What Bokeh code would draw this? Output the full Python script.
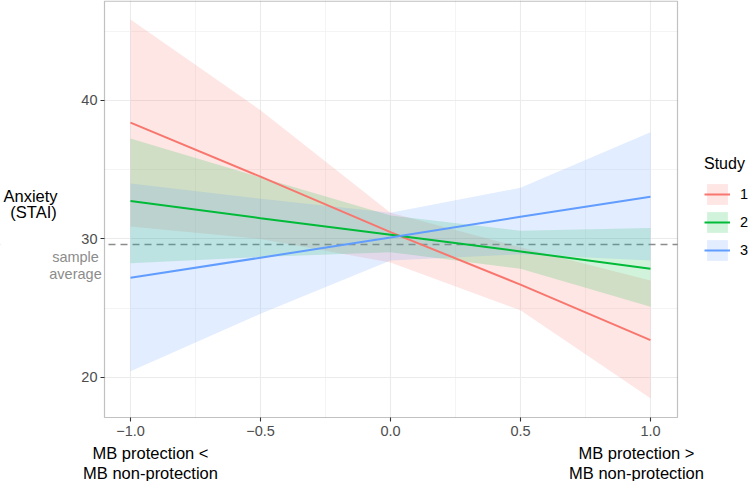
from bokeh.plotting import figure
from bokeh.models import Range1d, FixedTicker, Span, Legend, LegendItem, Label, BoxAnnotation
from bokeh.embed import file_html
from bokeh.resources import INLINE

# ---- data ----
x_points = [-1.0, -0.5, 0.0, 0.5, 1.0]
studies = ["1", "2", "3"]
colors = ["#F8766D", "#00BA38", "#619CFF"]

s1_mean = [38.4, 34.5, 30.5, 26.7, 22.7]
s1_lower = [30.9, 30.0, 28.3, 24.85, 18.5]
s1_upper = [45.85, 39.3, 31.9, 29.4, 27.0]

s2_mean = [32.75, 31.5, 30.3, 29.1, 27.85]
s2_lower = [28.25, 28.7, 29.05, 27.85, 25.1]
s2_upper = [37.25, 34.45, 31.7, 30.6, 30.8]

s3_mean = [27.2, 28.65, 30.1, 31.6, 33.05]
s3_lower = [20.45, 24.6, 28.45, 28.9, 28.45]
s3_upper = [34.0, 32.9, 31.9, 33.7, 37.7]

sample_average = 29.6

x_tick_values = [-1.0, -0.5, 0.0, 0.5, 1.0]
x_tick_labels = ["\u22121.0", "\u22120.5", "0.0", "0.5", "1.0"]
x_minor_values = [-0.75, -0.25, 0.25, 0.75]
y_tick_values = [20, 30, 40]
y_minor_values = [15, 25, 35, 45]

FONT = "Liberation Sans"
W, H = 750, 481

# panel limits (data) and where the panel sits on the canvas (px)
X_LO, X_HI = -1.1, 1.104
Y_LO, Y_HI = 17.11, 47.22
PX_L, PX_R, PX_B = 104, 677, 417
ux = (X_HI - X_LO) / (PX_R - PX_L)
uy = (Y_HI - Y_LO) / PX_B
XR0, XR1 = X_LO - PX_L * ux, X_HI + (W - PX_R) * ux
YR0, YR1 = Y_LO - (H - PX_B) * uy, Y_HI

p = figure(width=W, height=H, output_backend="svg", toolbar_location=None,
           x_range=Range1d(XR0, XR1), y_range=Range1d(YR0, YR1),
           min_border=0, min_border_left=0, min_border_right=0,
           min_border_top=0, min_border_bottom=0)
p.background_fill_color = "white"
p.border_fill_color = "white"
p.outline_line_color = None

xa = p.xaxis[0]
ya = p.yaxis[0]
xa.fixed_location = Y_LO
ya.fixed_location = X_LO
xa.ticker = FixedTicker(ticks=x_tick_values, minor_ticks=x_minor_values)
ya.ticker = FixedTicker(ticks=y_tick_values, minor_ticks=y_minor_values)
xa.major_label_overrides = {v: l for v, l in zip(x_tick_values, x_tick_labels)}
for ax in (xa, ya):
    ax.axis_line_color = None
    ax.major_tick_line_color = "#333333"
    ax.major_tick_line_width = 1.1
    ax.major_tick_out = 4
    ax.major_tick_in = 0
    ax.minor_tick_out = 0
    ax.minor_tick_in = 0
    ax.major_label_text_font = FONT
    ax.major_label_text_font_size = "14.5px"
    ax.major_label_text_color = "#4D4D4D"
ya.major_label_standoff = 3
xa.major_label_standoff = 4

for g in (p.xgrid, p.ygrid):
    g.grid_line_color = "#EBEBEB"
    g.grid_line_width = 1.1
    g.minor_grid_line_color = "#EFEFEF"
    g.minor_grid_line_width = 0.7

# reference line (trimmed by the margin covers below)
p.add_layout(Span(location=sample_average, dimension="width", line_color="#8C8C8C",
                  line_width=1.5, line_dash="7 5", level="underlay"))

# white margins around the panel hide grid lines outside it
pad_x, pad_y = 20 * ux, 20 * uy
for kw in (dict(left=XR0 - pad_x, right=X_LO, bottom=YR0 - pad_y, top=YR1 + pad_y),
           dict(left=X_HI, right=XR1 + pad_x, bottom=YR0 - pad_y, top=YR1 + pad_y),
           dict(left=XR0 - pad_x, right=XR1 + pad_x, bottom=YR0 - pad_y, top=Y_LO)):
    p.add_layout(BoxAnnotation(fill_color="white", fill_alpha=1, line_color=None,
                               level="underlay", **kw))
# panel border
p.add_layout(BoxAnnotation(left=X_LO, right=X_HI, bottom=Y_LO, top=Y_HI - 0.6 * uy,
                           fill_color=None, fill_alpha=0, line_color="#333333",
                           line_width=1.2, level="guide"))

means = [s1_mean, s2_mean, s3_mean]
lowers = [s1_lower, s2_lower, s3_lower]
uppers = [s1_upper, s2_upper, s3_upper]

ribbons = []
for lo, up, c in zip(lowers, uppers, colors):
    ribbons.append(p.varea(x=x_points, y1=lo, y2=up, fill_color=c, fill_alpha=0.18))

lines = []
for m, c in zip(means, colors):
    lines.append(p.line(x=x_points, y=m, line_color=c, line_width=2))


def add_text(text, px, py, size, color):
    """px, py: centre of the text on the canvas, from its top-left corner."""
    p.add_layout(Label(x=px, y=H - py, x_units="screen", y_units="screen", text=text,
                       text_font=FONT, text_font_size=size, text_color=color,
                       text_align="center", text_baseline="middle"))


add_text("Anxiety", 30, 195, "16.5px", "black")
add_text("(STAI)", 33, 211, "16.5px", "black")
add_text("sample", 75, 256, "14.5px", "#8C8C8C")
add_text("average", 75, 273, "14.5px", "#8C8C8C")
add_text("MB protection <", 150, 452, "16.5px", "black")
add_text("MB non-protection", 150, 472, "16.5px", "black")
add_text("MB protection >", 636, 452, "16.5px", "black")
add_text("MB non-protection", 636, 472, "16.5px", "black")

items = [LegendItem(label=s, renderers=[r, l]) for s, r, l in zip(studies, ribbons, lines)]
legend = Legend(items=items, location=(704, H - 263), title="Study",
                title_text_font=FONT, title_text_font_size="16px", title_text_color="black",
                title_text_font_style="normal", title_standoff=8,
                label_text_font=FONT, label_text_font_size="14.5px", label_text_color="black",
                glyph_width=26, glyph_height=26, spacing=2, label_standoff=10,
                padding=0, margin=0, border_line_color=None, background_fill_alpha=0)
p.add_layout(legend)

open("out.html", "w").write(file_html(p, INLINE))
